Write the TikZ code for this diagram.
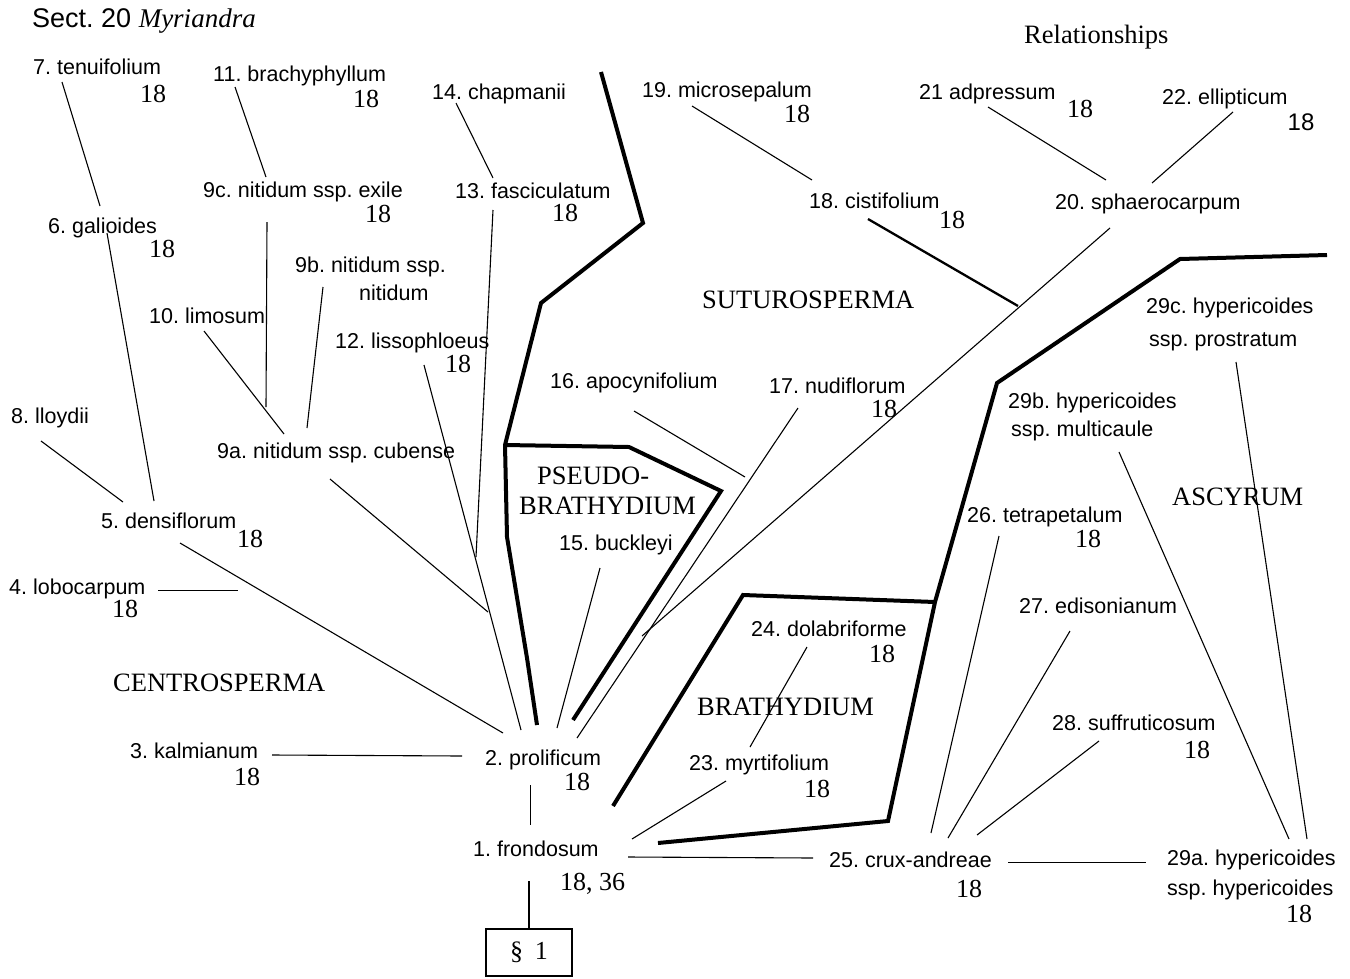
\documentclass[tikz,border=0pt]{standalone}
\usepackage{fontspec}
\setmainfont{Liberation Serif}
\setsansfont{Liberation Sans}
\begin{document}
\frenchspacing
\begin{tikzpicture}[x=1pt,y=-1pt,
  tx/.style={font=\sffamily\fontsize{21.5}{24}\selectfont, anchor=base west, inner sep=0pt},
  num/.style={font=\fontsize{26}{28}\selectfont, anchor=base, inner sep=0pt},
  grp/.style={font=\fontsize{26.5}{28}\selectfont, anchor=base west, inner sep=0pt},
  thinline/.style={line width=1.1pt},
  midline/.style={line width=2.3pt},
  border/.style={line width=4pt, line join=miter}]
\fill[white] (0,0) rectangle (1350,978);
\useasboundingbox (0,0) rectangle (1350,978);

% headings
\node[anchor=base west, inner sep=0pt, font=\sffamily\fontsize{27}{30}\selectfont] (title) at (32,27)
  {Sect. 20 {\rmfamily\itshape Myriandra}};
\node[grp] (rel) at (1024,43) {Relationships};

% taxa and chromosome numbers
\node[tx] (n7) at (33,74) {7. tenuifolium};        \node[num] (k7) at (153,102) {18};
\node[tx] (n11) at (213,81) {11. brachyphyllum};   \node[num] (k11) at (366,107) {18};
\node[tx] (n14) at (432,99) {14. chapmanii};
\node[tx] (n19) at (642,97) {19. microsepalum};    \node[num] (k19) at (797,122) {18};
\node[tx] (n21) at (919,99) {21 adpressum};        \node[num] (k21) at (1080,117) {18};
\node[tx] (n22) at (1162,104) {22. ellipticum};
\node[anchor=base, inner sep=0pt, font=\sffamily\fontsize{24}{26}\selectfont] (k22) at (1301,130) {18};
\node[tx] (n9c) at (203,197) {9c. nitidum ssp. exile}; \node[num] (k9c) at (378,222) {18};
\node[tx] (n13) at (455,198) {13. fasciculatum};   \node[num] (k13) at (565,221) {18};
\node[tx] (n18) at (809,208) {18. cistifolium};    \node[num] (k18) at (952,228) {18};
\node[tx] (n20) at (1055,209) {20. sphaerocarpum};
\node[tx] (n6) at (48,233) {6. galioides};         \node[num] (k6) at (162,257) {18};
\node[tx] (n9b) at (295,272) {9b. nitidum ssp.};
\node[tx] (n9bb) at (359,300) {nitidum};
\node[tx] (n10) at (149,323) {10. limosum};
\node[tx] (n29c) at (1146,313) {29c. hypericoides};
\node[tx] (n29cc) at (1149,346) {ssp. prostratum};
\node[tx] (n12) at (335,348) {12. lissophloeus};   \node[num] (k12) at (458,372) {18};
\node[tx] (n16) at (550,388) {16. apocynifolium};
\node[tx] (n17) at (769,393) {17. nudiflorum};     \node[num] (k17) at (884,417) {18};
\node[tx] (n29b) at (1008,408) {29b. hypericoides};
\node[tx] (n29bb) at (1011,436) {ssp. multicaule};
\node[tx] (n8) at (11,423) {8. lloydii};
\node[tx] (n9a) at (217,458) {9a. nitidum ssp. cubense};
\node[tx] (n5) at (101,528) {5. densiflorum};      \node[num] (k5) at (250,547) {18};
\node[tx] (n26) at (967,522) {26. tetrapetalum};   \node[num] (k26) at (1088,547) {18};
\node[tx] (n15) at (559,550) {15. buckleyi};
\node[tx] (n4) at (9,594) {4. lobocarpum};         \node[num] (k4) at (125,617) {18};
\node[tx] (n27) at (1019,613) {27. edisonianum};
\node[tx] (n24) at (751,636) {24. dolabriforme};   \node[num] (k24) at (882,662) {18};
\node[tx] (n28) at (1052,730) {28. suffruticosum}; \node[num] (k28) at (1197,758) {18};
\node[tx] (n3) at (130,758) {3. kalmianum};        \node[num] (k3) at (247,785) {18};
\node[tx] (n2) at (485,765) {2. prolificum};       \node[num] (k2) at (577,790) {18};
\node[tx] (n23) at (689,770) {23. myrtifolium};    \node[num] (k23) at (817,797) {18};
\node[tx] (n1) at (473,856) {1. frondosum};
\node[num, anchor=base west] (k1) at (560,890) {18, 36};
\node[tx] (n25) at (829,867) {25. crux-andreae};   \node[num] (k25) at (969,897) {18};
\node[tx] (n29a) at (1167,865) {29a. hypericoides};
\node[tx] (n29aa) at (1167,895) {ssp. hypericoides}; \node[num] (k29a) at (1299,922) {18};

% group names
\node[grp] (gsut) at (702,308) {SUTUROSPERMA};
\node[grp] (gcen) at (113,691) {CENTROSPERMA};
\node[grp] (gps1) at (537,484) {PSEUDO-};
\node[grp] (gps2) at (519,514) {BRATHYDIUM};
\node[grp] (gbra) at (697,715) {BRATHYDIUM};
\node[grp] (gasc) at (1172,505) {ASCYRUM};

% section box
\node[draw, line width=2pt, minimum width=86, minimum height=47, inner sep=0pt,
      font=\fontsize{26}{28}\selectfont] (sec) at (529,952) {\S\hspace{12pt}1};

% connector end points
\coordinate (e7t) at (62,82);    \coordinate (e6t) at (100,206);
\coordinate (e6b) at (107,233);  \coordinate (e5a) at (154,501);
\coordinate (e8) at (41,441);    \coordinate (e5b) at (123,502);
\coordinate (e5c) at (180,543);  \coordinate (p2a) at (503,733);
\coordinate (e4) at (158,590.5); \coordinate (e4b) at (238,590.5);
\coordinate (e11) at (235,87);   \coordinate (e9ct) at (266,177);
\coordinate (e9cb) at (267,222); \coordinate (e9aa) at (266,407);
\coordinate (e10) at (204,331);  \coordinate (e9ab) at (284,434);
\coordinate (e9b) at (323,287);  \coordinate (e9ac) at (307,428);
\coordinate (e9ad) at (330,479); \coordinate (j12a) at (488,612);
\coordinate (e12) at (424,365);  \coordinate (p2b) at (521,730);
\coordinate (e13b) at (493,210); \coordinate (j12b) at (476,557);
\coordinate (e14) at (456,103);  \coordinate (e13t) at (493,178);
\coordinate (e15) at (600,568);  \coordinate (p2c) at (557,728);
\coordinate (e16) at (634,411);  \coordinate (j17a) at (745,477);
\coordinate (e17) at (798,408);  \coordinate (p2d) at (577,738);
\coordinate (e20b) at (1110,228);\coordinate (j17b) at (642,636);
\coordinate (e18b) at (868,219); \coordinate (j20) at (1018,306);
\coordinate (e19) at (692,106);  \coordinate (e18t) at (812,180);
\coordinate (e21) at (988,107);  \coordinate (e20ta) at (1106,180);
\coordinate (e22) at (1233,112); \coordinate (e20tb) at (1152,183);
\coordinate (e29c) at (1236,362);\coordinate (e29ta) at (1307,839);
\coordinate (e29b) at (1119,452);\coordinate (e29tb) at (1289,839);
\coordinate (e26) at (999,536);  \coordinate (e25a) at (931,833);
\coordinate (e27) at (1070,631); \coordinate (e25b) at (948,838);
\coordinate (e28) at (1099,741); \coordinate (e25c) at (977,835);
\coordinate (e25r) at (1008,862.5);\coordinate (e29l) at (1146,862.5);
\coordinate (e1r) at (628,857);  \coordinate (e25l) at (813,858);
\coordinate (e23) at (726,781);  \coordinate (e1a) at (632,839);
\coordinate (e24) at (807,647);  \coordinate (e23t) at (750,747);
\coordinate (e3) at (272,755);   \coordinate (e2l) at (462,756);
\coordinate (e2b) at (530.5,785);  \coordinate (e1t) at (530.5,825);
\coordinate (e1b) at (529,881);

% relationship lines
\draw[thinline] (e7t) -- (e6t);
\draw[thinline] (e6b) -- (e5a);
\draw[thinline] (e8) -- (e5b);
\draw[thinline] (e5c) -- (p2a);
\draw[thinline] (e4) -- (e4b);
\draw[thinline] (e11) -- (e9ct);
\draw[thinline] (e9cb) -- (e9aa);
\draw[thinline] (e10) -- (e9ab);
\draw[thinline] (e9b) -- (e9ac);
\draw[thinline] (e9ad) -- (j12a);
\draw[thinline] (e12) -- (p2b);
\draw[thinline] (e13b) -- (j12b);
\draw[thinline] (e14) -- (e13t);
\draw[thinline] (e15) -- (p2c);
\draw[thinline] (e16) -- (j17a);
\draw[thinline] (e17) -- (p2d);
\draw[thinline] (e20b) -- (j17b);
\draw[midline] (e18b) -- (j20);
\draw[thinline] (e19) -- (e18t);
\draw[thinline] (e21) -- (e20ta);
\draw[thinline] (e22) -- (e20tb);
\draw[thinline] (e29c) -- (e29ta);
\draw[thinline] (e29b) -- (e29tb);
\draw[thinline] (e26) -- (e25a);
\draw[thinline] (e27) -- (e25b);
\draw[thinline] (e28) -- (e25c);
\draw[thinline] (e25r) -- (e29l);
\draw[thinline] (e1r) -- (e25l);
\draw[thinline] (e23) -- (e1a);
\draw[thinline] (e24) -- (e23t);
\draw[thinline] (e3) -- (e2l);
\draw[thinline] (e2b) -- (e1t);
\draw[thinline] (e1b) -- (sec.north);

% heavy boundaries between the groups
\draw[border] (601,72) -- (643,223) -- (541,303) -- (505,445) -- (507,537) -- (527,658) -- (537,725);
\draw[border] (505,445) -- (629,447) -- (721,491) -- (573,720);
\draw[border] (613,806) -- (743,595) -- (935,602);
\draw[border] (1327,255) -- (1180,259) -- (997,383) -- (935,602) -- (888,821) -- (658,843);
\end{tikzpicture}
\end{document}
